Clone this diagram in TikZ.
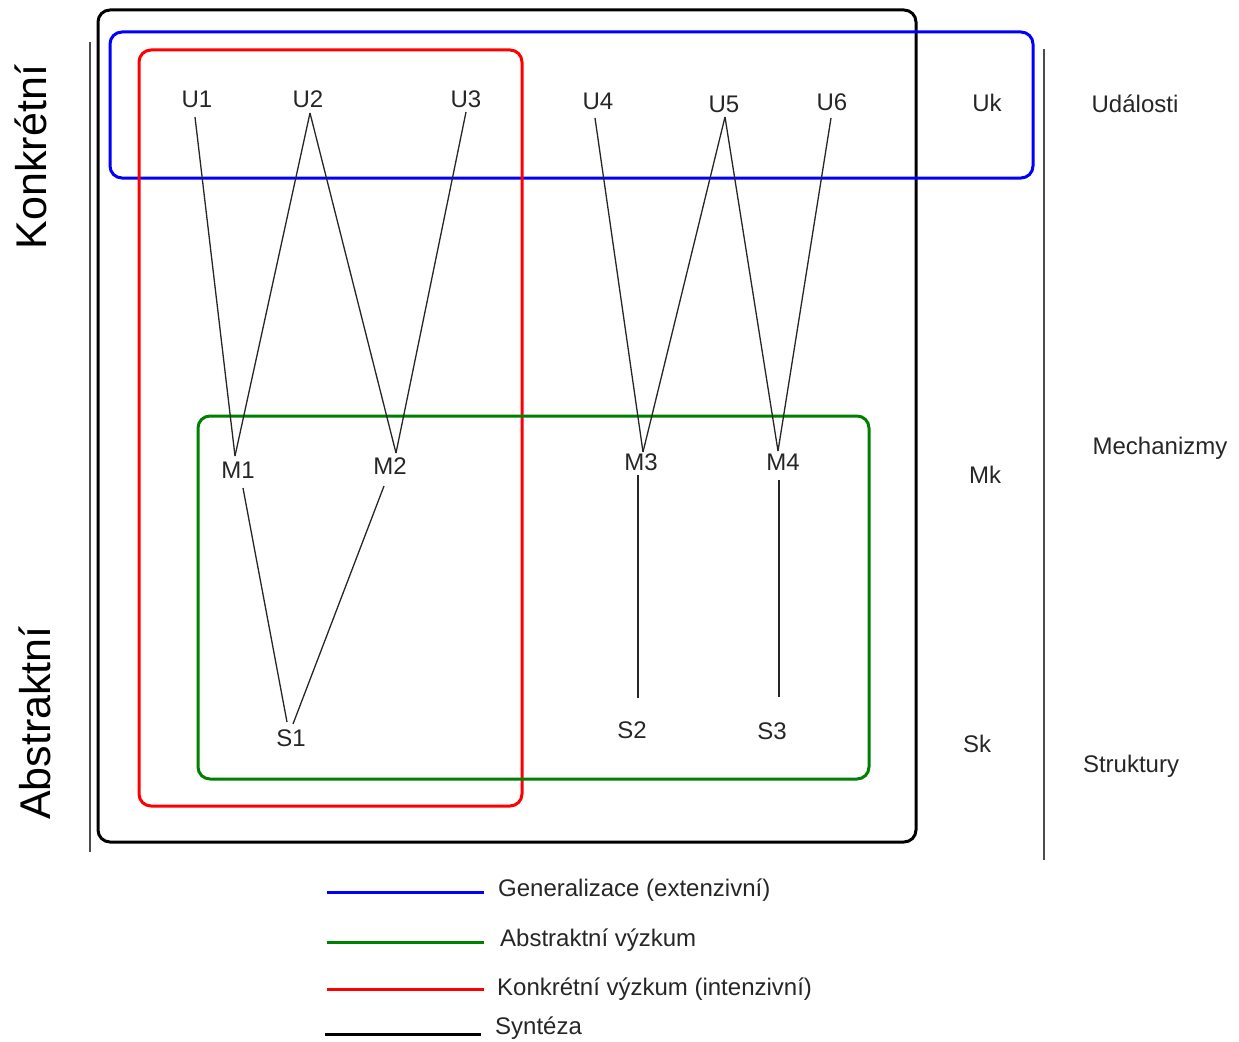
\documentclass[tikz,border=0pt]{standalone}
\usepackage{fontspec}
\setmainfont{Liberation Sans}
\begin{document}
\begin{tikzpicture}[x=1pt,y=-1pt,
  lbl/.style={font=\fontsize{24}{27}\selectfont, inner sep=0pt, text=black!85},
  big/.style={font=\fontsize{43}{48}\selectfont, inner sep=0pt, rotate=90},
  legtxt/.style={font=\fontsize{24}{27}\selectfont, inner sep=0pt, anchor=west, text=black!85},
  conn/.style={line width=1.3pt, black!85},
  frame/.style={line width=3pt, rounded corners=12pt},
  rule/.style={line width=1.6pt, black!70},
  leg/.style={line width=3pt}]
\useasboundingbox (0,0) rectangle (1239,1041);
\definecolor{bl}{RGB}{0,0,255}
\definecolor{rd}{RGB}{255,0,0}
\definecolor{gr}{RGB}{0,128,0}

% frames
\draw[frame, black] (98,10) rectangle (916,842);
\draw[frame, bl] (110,32) rectangle (1033,178);
\draw[frame, rd] (139,50) rectangle (522,806);
\draw[frame, gr] (198,416) rectangle (869,779);

% side rules
\coordinate (lr1) at (90,42);
\coordinate (lr2) at (90,852);
\draw[rule] (lr1) -- (lr2);
\coordinate (rr1) at (1044,49);
\coordinate (rr2) at (1044,860);
\draw[rule] (rr1) -- (rr2);

% big labels
\node[big] (konk) at (31,157) {Konkrétní};
\node[big] (abst) at (35,723) {Abstraktní};

% labels
\node[lbl] (U1) at (197,99) {U1};
\node[lbl] (U2) at (308,99) {U2};
\node[lbl] (U3) at (466,99) {U3};
\node[lbl] (U4) at (598,101) {U4};
\node[lbl] (U5) at (724,104) {U5};
\node[lbl] (U6) at (832,102) {U6};
\node[lbl] (Uk) at (987,103) {Uk};
\node[lbl] (Ud) at (1135,104) {Události};

\node[lbl] (M1) at (238,470) {M1};
\node[lbl] (M2) at (390,466) {M2};
\node[lbl] (M3) at (641,462) {M3};
\node[lbl] (M4) at (783,462) {M4};
\node[lbl] (Mk) at (985,475) {Mk};
\node[lbl] (Mech) at (1160,448) {Mechanizmy};

\node[lbl] (S1) at (291,738) {S1};
\node[lbl] (S2) at (632,730) {S2};
\node[lbl] (S3) at (772,731) {S3};
\node[lbl] (Sk) at (977,744) {Sk};
\node[lbl] (Str) at (1131,766) {Struktury};

% connector end points
\coordinate (u1) at (195,117);
\coordinate (u2) at (310,113);
\coordinate (u3) at (466,112);
\coordinate (u4) at (595,118);
\coordinate (u5) at (725,117);
\coordinate (u6) at (831,118);
\coordinate (m1t) at (235,456);
\coordinate (m2t) at (396,453);
\coordinate (m3t) at (643,452);
\coordinate (m4t) at (778,451);
\coordinate (m1b) at (243,488);
\coordinate (m2b) at (384,486);
\coordinate (m3b) at (638,475);
\coordinate (m4b) at (779,480);
\coordinate (s1l) at (287,722);
\coordinate (s1r) at (293,724);
\coordinate (s2t) at (638,698);
\coordinate (s3t) at (779,697);

\draw[conn] (u1) -- (m1t);
\draw[conn] (u2) -- (m1t);
\draw[conn] (u2) -- (m2t);
\draw[conn] (u3) -- (m2t);
\draw[conn] (u4) -- (m3t);
\draw[conn] (u5) -- (m3t);
\draw[conn] (u5) -- (m4t);
\draw[conn] (u6) -- (m4t);
\draw[conn] (m1b) -- (s1l);
\draw[conn] (m2b) -- (s1r);
\draw[conn] (m3b) -- (s2t);
\draw[conn] (m4b) -- (s3t);

% legend
\coordinate (lb1) at (327,892); \coordinate (lb2) at (484,892);
\coordinate (lg1) at (327,942); \coordinate (lg2) at (484,942);
\coordinate (lr1x) at (327,989); \coordinate (lr2x) at (484,989);
\coordinate (lk1) at (325,1034); \coordinate (lk2) at (481,1034);
\draw[leg, bl] (lb1) -- (lb2);
\draw[leg, gr] (lg1) -- (lg2);
\draw[leg, rd] (lr1x) -- (lr2x);
\draw[leg, black] (lk1) -- (lk2);
\node[legtxt] (t1) at (498,890) {Generalizace (extenzivní)};
\node[legtxt] (t2) at (500,940) {Abstraktní výzkum};
\node[legtxt] (t3) at (497,989) {Konkrétní výzkum (intenzivní)};
\node[legtxt] (t4) at (495,1028) {Syntéza};
\end{tikzpicture}
\end{document}
